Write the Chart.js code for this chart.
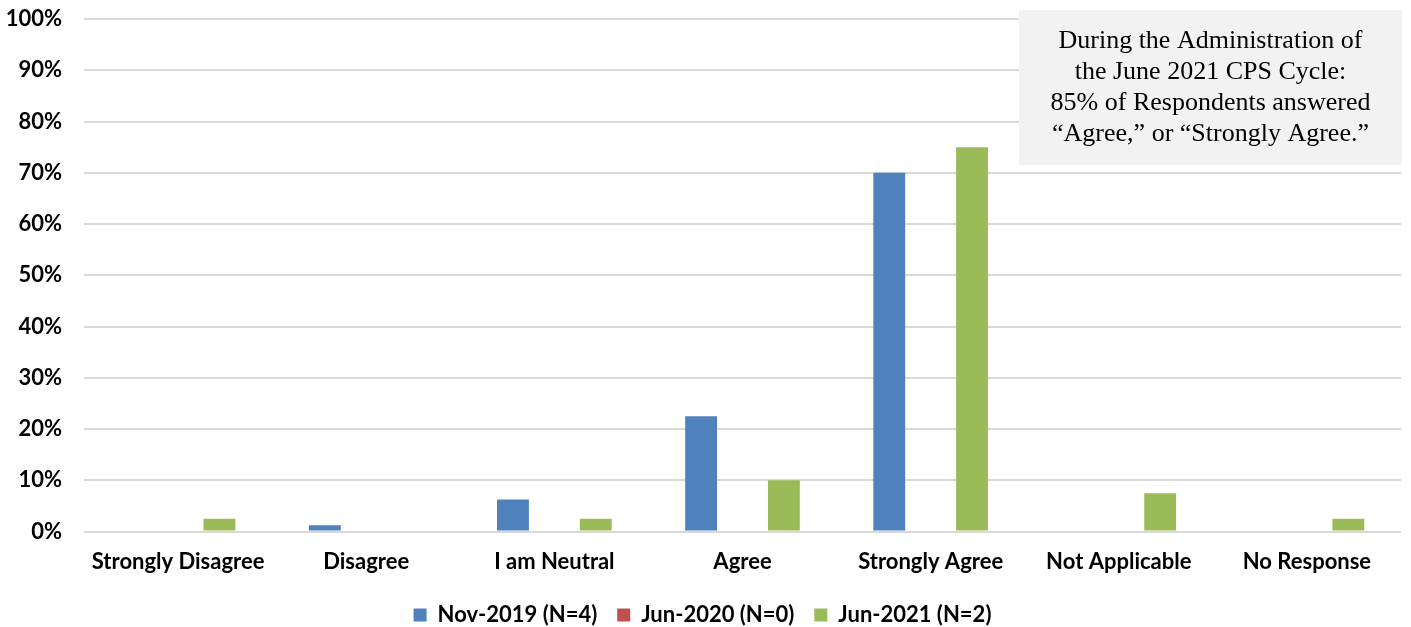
<!DOCTYPE html>
<html>
<head>
<meta charset="utf-8">
<script src="https://cdn.jsdelivr.net/npm/chart.js@4"></script>
<style>
  html, body { margin: 0; padding: 0; background: #fff; }
  #wrap { width: 1411px; height: 627px; }
</style>
</head>
<body>
<div id="wrap"><canvas id="chart" width="1411" height="627"></canvas></div>
<script>
const categories = ['Strongly Disagree', 'Disagree', 'I am Neutral', 'Agree', 'Strongly Agree', 'Not Applicable', 'No Response'];
const nov2019 = [0, 1.25, 6.25, 22.5, 70, 0, 0];
const jun2020 = [0, 0, 0, 0, 0, 0, 0];
const jun2021 = [2.5, 0, 2.5, 10, 75, 7.5, 2.5];
const seriesNames = ['Nov-2019 (N=4)', 'Jun-2020 (N=0)', 'Jun-2021 (N=2)'];
const yTicks = [0, 10, 20, 30, 40, 50, 60, 70, 80, 90, 100];
const noteLines = ['During the Administration of', 'the June 2021 CPS Cycle:', '85% of Respondents answered', '\u201CAgree,\u201D or \u201CStrongly Agree.\u201D'];

const labelFont = { family: 'Lato, "Open Sans", sans-serif', size: 22, weight: 'bold' };

// grey text box in the upper right corner
const noteBox = {
    id: 'noteBox',
    afterDatasetsDraw(chart) {
        const ctx = chart.ctx;
        const area = chart.chartArea;
        const w = 383, h = 155;
        const x = area.right - w + 1, y = 10;
        ctx.save();
        ctx.fillStyle = '#f2f2f2';
        ctx.fillRect(x, y, w, h);
        ctx.fillStyle = '#000';
        ctx.font = '26px "Liberation Serif", "Times New Roman", serif';
        ctx.textAlign = 'center';
        ctx.textBaseline = 'middle';
        noteLines.forEach((line, i) => {
            ctx.fillText(line, x + w / 2, y + 31 + i * 31);
        });
        ctx.restore();
    }
};

new Chart(document.getElementById('chart'), {
    type: 'bar',
    data: {
        labels: categories,
        datasets: [
            { label: seriesNames[0], data: nov2019, backgroundColor: '#4f81bd' },
            { label: seriesNames[1], data: jun2020, backgroundColor: '#c0504d' },
            { label: seriesNames[2], data: jun2021, backgroundColor: '#9bbb59' }
        ]
    },
    options: {
        responsive: false,
        animation: false,
        layout: { padding: { top: 19, right: 10, left: 4, bottom: -9 } },
        datasets: { bar: { categoryPercentage: 0.66, barPercentage: 0.77 } },
        scales: {
            x: {
                grid: { display: false },
                border: { display: false },
                ticks: { font: labelFont, color: '#000', padding: 9, maxRotation: 0 }
            },
            y: {
                min: 0,
                max: 100,
                afterBuildTicks(axis) { axis.ticks = yTicks.map(v => ({ value: v })); },
                afterFit(axis) { axis.width = 80; axis.paddingTop = 0; axis.paddingBottom = 0; },
                grid: { color: '#d9d9d9', lineWidth: 2, drawTicks: false },
                border: { display: false },
                ticks: { font: labelFont, color: '#000', padding: 22, callback: v => v + '%' }
            }
        },
        plugins: {
            legend: {
                position: 'bottom',
                labels: { font: labelFont, color: '#000', boxWidth: 13, boxHeight: 13, padding: 20 }
            },
            tooltip: { enabled: false }
        }
    },
    plugins: [noteBox]
});
</script>
</body>
</html>
